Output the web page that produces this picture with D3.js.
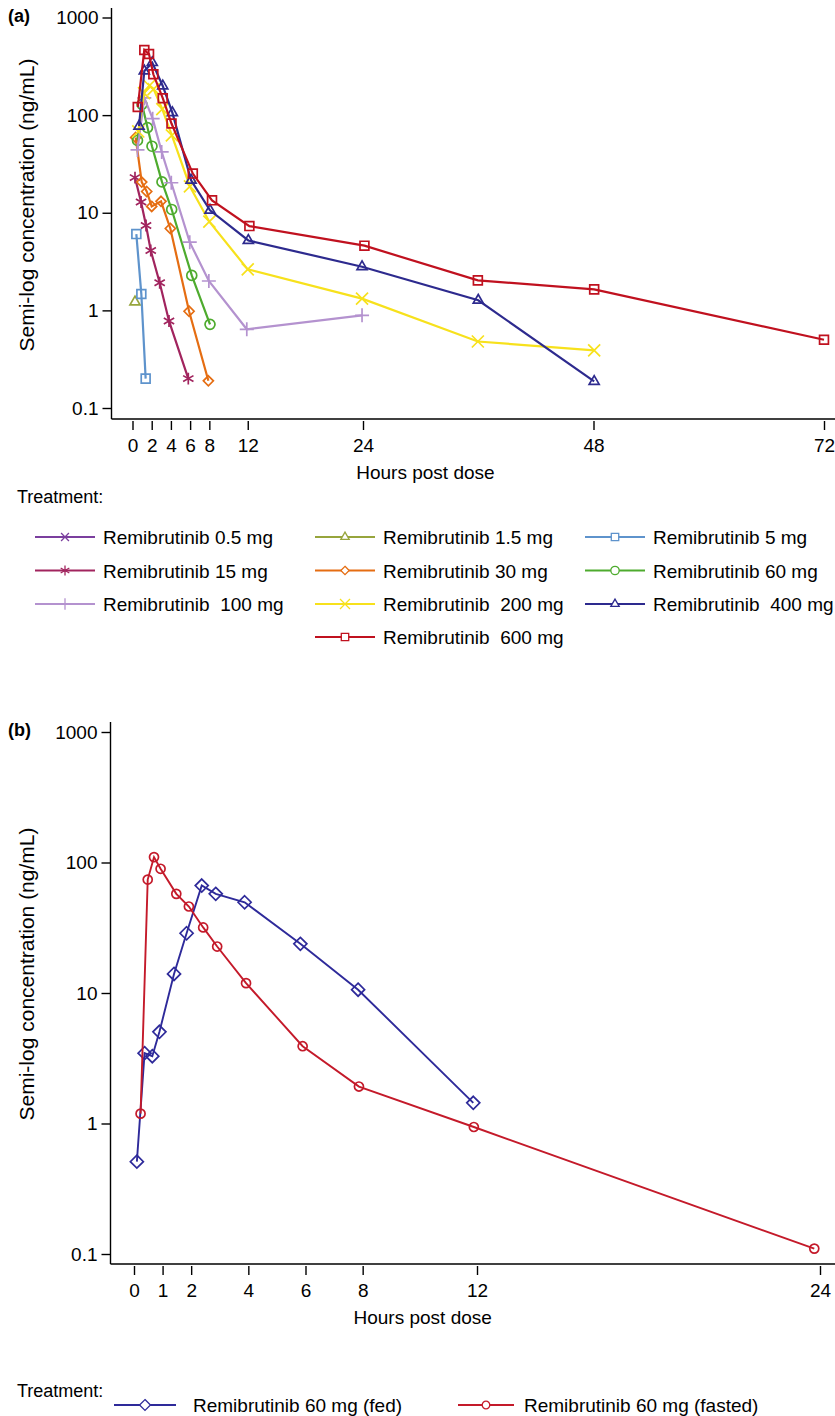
<!DOCTYPE html>
<html>
<head>
<meta charset="utf-8">
<script src="https://cdn.jsdelivr.net/npm/d3@7"></script>
<style>
body{margin:0;background:#fff}
svg{display:block;font-family:"Liberation Sans",Arial,sans-serif}
</style>
</head>
<body>
<svg id="chart" width="835" height="1416"></svg>
<script>
//---- panel (a): mean conc (ng/mL) vs hours, one pair of arrays per dose
var doseLabels = ["Remibrutinib 0.5 mg", "Remibrutinib 1.5 mg", "Remibrutinib 5 mg",
                  "Remibrutinib 15 mg", "Remibrutinib 30 mg", "Remibrutinib 60 mg",
                  "Remibrutinib  100 mg", "Remibrutinib  200 mg", "Remibrutinib  400 mg",
                  "Remibrutinib  600 mg"]
var h05 = [], c05 = []   //nothing visible for 0.5 mg
var h1_5 = [0.26], c1_5 = [1.22]
var h5 = [0.4, 0.92, 1.37], c5 = [6.05, 1.47, 0.2]
var h15 = [0.26, 0.89, 1.41, 1.9, 2.83, 3.8, 5.81]
var c15 = [22.9, 12.9, 7.4, 4.1, 1.92, 0.78, 0.2]
var h30 = [0.33, 0.96, 1.48, 2.0, 2.97, 3.94, 5.89, 7.9]
var c30 = [59, 20.6, 16.5, 11.6, 13.1, 6.9, 0.98, 0.19]
var h60 = [0.52, 0.99, 1.56, 2.03, 3.07, 4.08, 6.17, 8.07]
var c60 = [55, 129, 74.5, 48, 20.7, 10.8, 2.28, 0.72]
var h100 = [0.52, 1.23, 2.1, 3.04, 4.04, 5.96, 7.95, 11.9, 23.9]
var c100 = [44, 150, 92, 42, 20.3, 5.0, 2.0, 0.64, 0.89]
var h200 = [0.6, 1.2, 1.75, 2.2, 3.1, 4.1, 5.98, 8.0, 12.0, 23.9, 35.96, 48.07]
var c200 = [68, 168, 200, 185, 115, 62, 18.6, 8.1, 2.63, 1.32, 0.48, 0.39]
var h400 = [0.68, 1.23, 2.06, 3.15, 4.15, 6.1, 8.07, 12.06, 23.9, 36.0, 48.07]
var c400 = [77, 283, 345, 199, 106, 21.5, 10.6, 5.2, 2.8, 1.27, 0.187]
var h600 = [0.55, 1.23, 1.72, 2.17, 3.15, 4.06, 6.28, 8.28, 12.17, 24.15, 35.96, 48.07, 72.0]
var c600 = [121, 465, 423, 262, 149, 82, 25.2, 13.4, 7.3, 4.6, 2.03, 1.64, 0.5]

//---- panel (b): 60 mg fed vs fasted
var foodLabels = ["Remibrutinib 60 mg (fed)", "Remibrutinib 60 mg (fasted)"]
var hFed = [0.1, 0.37, 0.64, 0.89, 1.40, 1.84, 2.37, 2.86, 3.87, 5.82, 7.84, 11.87]
var cFed = [0.51, 3.46, 3.28, 5.04, 14.0, 28.7, 66.6, 57.5, 49.6, 23.8, 10.6, 1.44]
var hFasted = [0.23, 0.48, 0.70, 0.93, 1.48, 1.92, 2.42, 2.91, 3.92, 5.90, 7.87, 11.89, 23.8]
var cFasted = [1.19, 74, 110, 89.5, 57.5, 46, 31.8, 22.7, 11.9, 3.91, 1.92, 0.94, 0.11]

//---- ticks
var yTicks = [0.1, 1, 10, 100, 1000]
var yTickLabels = ["0.1", "1", "10", "100", "1000"]
var xTicksA = [0, 2, 4, 6, 8, 12, 24, 48, 72]
var xTicksB = [0, 1, 2, 4, 6, 8, 12, 24]

//styles kept apart from the numbers
var colorsA = ["#7b3f9e", "#97a53c", "#5e93cc", "#a1245e", "#e56d12",
               "#4eab2e", "#b492cf", "#f7e11c", "#2d2a8e", "#c0111f"]
var symbolsA = [d3.symbolTimes, d3.symbolTriangle2, d3.symbolSquare2, d3.symbolAsterisk,
                d3.symbolDiamond2, d3.symbolCircle, d3.symbolPlus, d3.symbolTimes,
                d3.symbolTriangle2, d3.symbolSquare2]
var sizesA = [60, 72, 100, 100, 64, 78, 66, 96, 72, 100]
var colorsB = ["#2e2a9a", "#c41a2a"]
var symbolsB = [d3.symbolDiamond2, d3.symbolCircle]
var sizesB = [108, 64]

var svg = d3.select("#chart")
var fontSize = 19

//draws one panel: axes + lines + markers
var drawPanel = function(cfg)
{
    var g = svg.append("g").attr("class", "panel")

    var xScale = d3.scaleLinear().domain(cfg.xDomain).range(cfg.xRange)
    var yScale = d3.scaleLog().domain([0.1, 1000]).range(cfg.yRange)

    //y axis
    var yAxis = d3.axisLeft(yScale)
        .tickValues(yTicks)
        .tickFormat(function(d, i){ return yTickLabels[i] })
        .tickSize(9).tickSizeOuter(0).tickPadding(4)
    var ya = g.append("g")
        .attr("transform", "translate(" + cfg.axisX + ",0)")
        .call(yAxis)
    ya.select(".domain").remove()
    g.append("line")
        .attr("x1", cfg.axisX).attr("x2", cfg.axisX)
        .attr("y1", cfg.axisTop).attr("y2", cfg.axisBottom)
        .attr("stroke", "#000").attr("stroke-width", 1.4)

    //x axis - ticks sit a little below the axis line (stata look)
    g.append("line")
        .attr("x1", cfg.axisX).attr("x2", 835)
        .attr("y1", cfg.axisBottom).attr("y2", cfg.axisBottom)
        .attr("stroke", "#000").attr("stroke-width", 1.4)
    var xAxis = d3.axisBottom(xScale)
        .tickValues(cfg.xTicks)
        .tickFormat(d3.format("d"))
        .tickSize(9).tickSizeOuter(0).tickPadding(9)
    var xa = g.append("g")
        .attr("transform", "translate(0," + (cfg.axisBottom + 2) + ")")
        .call(xAxis)
    xa.select(".domain").remove()

    g.selectAll(".tick line").attr("stroke", "#000").attr("stroke-width", 1.4)
    g.selectAll(".tick text").attr("font-size", fontSize).attr("fill", "#000")
        .attr("font-family", "Liberation Sans, Arial, sans-serif")

    //titles
    g.append("text")
        .attr("x", xScale(cfg.titleAt)).attr("y", cfg.axisBottom + 60)
        .attr("text-anchor", "middle").attr("font-size", fontSize)
        .text("Hours post dose")
    g.append("text")
        .attr("transform", "translate(34," + cfg.yTitleY + ") rotate(-90)")
        .attr("text-anchor", "middle").attr("font-size", 21)
        .text("Semi-log concentration (ng/mL)")
    g.append("text")
        .attr("x", 8).attr("y", cfg.axisTop + 14)
        .attr("font-size", 18).attr("font-weight", "bold")
        .text(cfg.tag)

    //series
    var line = d3.line()
        .x(function(p){ return xScale(p.h) })
        .y(function(p){ return yScale(p.c) })

    var sg = g.selectAll("g.series")
        .data(cfg.series)
        .enter()
        .append("g")
        .attr("class", "series")
        .attr("stroke", function(s){ return s.color })
        .attr("fill", "none")

    sg.append("path")
        .attr("d", function(s){ return line(s.points) })
        .attr("stroke-width", cfg.lineWidth)

    sg.each(function(s){
        d3.select(this).selectAll("path.mk")
            .data(s.points)
            .enter()
            .append("path")
            .attr("class", "mk")
            .attr("d", d3.symbol().type(s.symbol).size(s.size))
            .attr("transform", function(p){ return "translate(" + xScale(p.h) + "," + yScale(p.c) + ")" })
            .attr("stroke-width", 1.7)
    })
}

var drawLegend = function(items, top, pos)
{
    svg.append("text")
        .attr("x", 17).attr("y", top + 6)
        .attr("font-size", 18)
        .text("Treatment:")

    var gs = svg.selectAll(null)
        .data(items)
        .enter()
        .append("g")
        .attr("transform", function(d, i){ var p = pos(i); return "translate(" + p[0] + "," + p[1] + ")" })

    gs.append("line")
        .attr("x1", 0).attr("x2", function(d){ return d.len })
        .attr("stroke", function(d){ return d.color }).attr("stroke-width", 2)
    gs.append("path")
        .attr("d", function(d){ return d3.symbol().type(d.symbol).size(d.size * 0.7)() })
        .attr("transform", function(d){ return "translate(" + d.len / 2 + ",0)" })
        .attr("stroke", function(d){ return d.color }).attr("fill", "#fff").attr("stroke-width", 1.3)
    gs.append("text")
        .attr("x", function(d){ return d.len + d.gap }).attr("y", 7)
        .attr("font-size", fontSize)
        .style("white-space", "pre")
        .text(function(d){ return d.label })
}

var zipPts = function(h, c){ return h.map(function(v, i){ return {h: v, c: c[i]} }) }

var hoursA = [h05, h1_5, h5, h15, h30, h60, h100, h200, h400, h600]
var concA = [c05, c1_5, c5, c15, c30, c60, c100, c200, c400, c600]
var seriesA = doseLabels.map(function(lab, i){
    return {label: lab, points: zipPts(hoursA[i], concA[i]), color: colorsA[i],
            symbol: symbolsA[i], size: sizesA[i], len: 60, gap: 8}
})
var seriesB = [
    {label: foodLabels[0], points: zipPts(hFed, cFed), color: colorsB[0], symbol: symbolsB[0], size: sizesB[0], len: 62, gap: 17},
    {label: foodLabels[1], points: zipPts(hFasted, cFasted), color: colorsB[1], symbol: symbolsB[1], size: sizesB[1], len: 56, gap: 10}
]

drawPanel({series: seriesA, xDomain: [0, 72], xRange: [132.5, 824], yRange: [408, 17.5],
           xTicks: xTicksA, axisX: 111.5, axisTop: 8, axisBottom: 419, yTitleY: 205,
           titleAt: 30.5, tag: "(a)", lineWidth: 2.2})
drawPanel({series: seriesB, xDomain: [0, 24], xRange: [134, 820], yRange: [1254, 732],
           xTicks: xTicksB, axisX: 110.5, axisTop: 722, axisBottom: 1264, yTitleY: 974,
           titleAt: 10.1, tag: "(b)", lineWidth: 1.9})

var colXA = [35, 315, 585]
drawLegend(seriesA, 497, function(i){
    if (i == 9) return [colXA[1], 637]
    return [colXA[i % 3], 537 + Math.floor(i / 3) * 33.5]
})
var colXB = [114, 458]
drawLegend(seriesB, 1391, function(i){ return [colXB[i], 1405] })
</script>
</body>
</html>
